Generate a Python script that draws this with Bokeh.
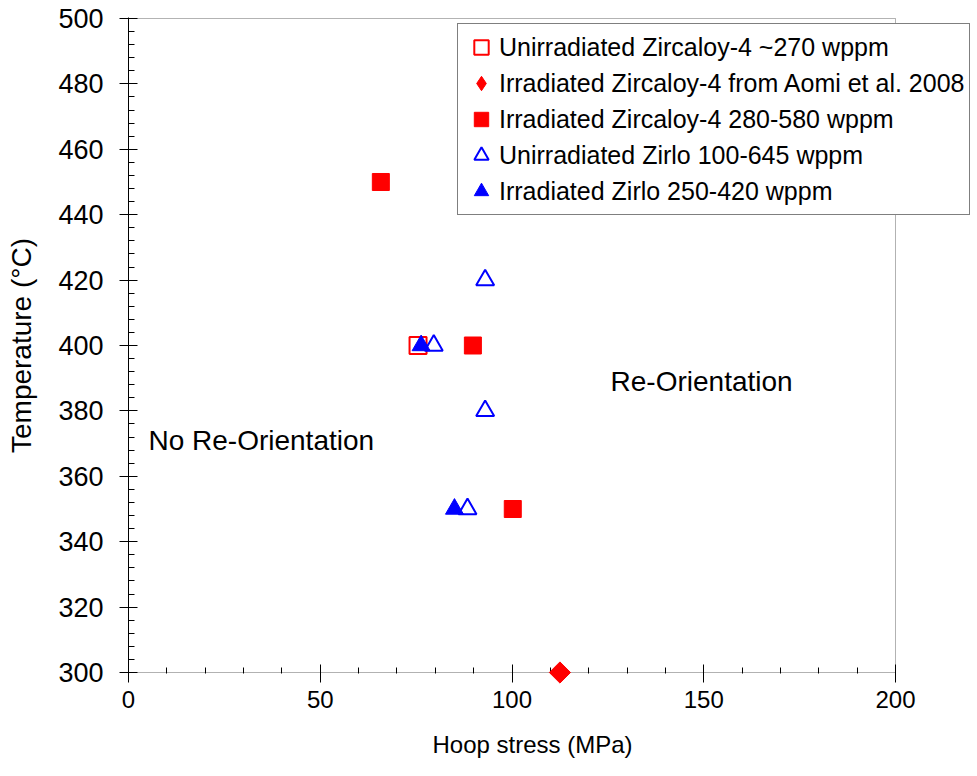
import math
from bokeh.plotting import figure
from bokeh.models import FixedTicker, Legend, LegendItem, Label, BoxAnnotation, Title
from bokeh.embed import file_html
from bokeh.resources import INLINE

FONT = "Liberation Sans"

# Data (hoop stress MPa, temperature °C)
unirr_zr4_x = [75.5]
unirr_zr4_y = [400]
aomi_x = [112.5]
aomi_y = [300]
irr_zr4_x = [65.8, 89.8, 100.2]
irr_zr4_y = [450, 400, 350]
unirr_zirlo_x = [93.0, 79.6, 93.0, 88.4]
unirr_zirlo_y = [420, 400, 380, 350]
irr_zirlo_x = [76.3, 85.0]
irr_zirlo_y = [400, 350]

labels = [
    "Unirradiated Zircaloy-4 ~270 wppm",
    "Irradiated Zircaloy-4 from Aomi et al. 2008",
    "Irradiated Zircaloy-4 280-580 wppm",
    "Unirradiated Zirlo 100-645 wppm",
    "Irradiated Zirlo 250-420 wppm",
]

x_min, x_max = 0, 200
y_min, y_max = 300, 500
x_ticks = [0, 50, 100, 150, 200]
x_minor = list(range(0, 201, 10))
y_ticks = list(range(300, 501, 20))
y_minor = list(range(300, 501, 4))

# frame extends to the right of the data box so the legend is not clipped
px_per_x = 767 / (x_max - x_min)
px_per_y = 655 / (y_max - y_min)
x_end = x_min + 847 / px_per_x
y_start = y_min - 1 / px_per_y
y_end = y_max + 1 / px_per_y

p = figure(width=977, height=776, output_backend="svg", toolbar_location=None,
           x_range=(x_min, x_end), y_range=(y_start, y_end),
           min_border_left=128, min_border_right=2, min_border_top=17, min_border_bottom=102)
p.xgrid.visible = False
p.ygrid.visible = False
p.outline_line_color = None
p.background_fill_color = "white"
p.border_fill_color = "white"

p.add_layout(BoxAnnotation(left=x_min, right=x_max, bottom=y_min, top=y_max,
                           fill_alpha=0, line_color="black", line_width=1))

p.xaxis.ticker = FixedTicker(ticks=x_ticks, minor_ticks=x_minor)
p.yaxis.ticker = FixedTicker(ticks=y_ticks, minor_ticks=y_minor)
for ax in (p.xaxis[0], p.yaxis[0]):
    ax.axis_line_color = "black"
    ax.major_tick_line_color = "black"
    ax.minor_tick_line_color = "black"
    ax.major_tick_in = 9
    ax.major_tick_out = 9
    ax.minor_tick_in = 6
    ax.minor_tick_out = 0
    ax.major_label_text_font = FONT
    ax.major_label_text_color = "black"
    ax.axis_label_text_font = FONT
    ax.axis_label_text_font_style = "normal"
    ax.axis_label_text_color = "black"
p.xaxis.axis_line_color = None

p.yaxis.axis_label = "Temperature (°C)"
p.xaxis.major_label_text_font_size = "24px"
p.yaxis.major_label_text_font_size = "27px"
p.yaxis.axis_label_text_font_size = "28px"
p.xaxis.major_label_standoff = 8
p.yaxis.major_label_standoff = 16
p.yaxis.axis_label_standoff = 18

p.add_layout(Title(text="Hoop stress (MPa)", align="left", offset=304,
                   text_font=FONT, text_font_size="24px", text_font_style="normal",
                   text_color="black", standoff=37), "below")

r1 = p.scatter(unirr_zr4_x, unirr_zr4_y, marker="square", size=17,
               fill_color=None, line_color="#FF0000", line_width=2)
# diamond shape used for the legend key; covered by the rotated square below
r2_key = p.scatter(aomi_x, aomi_y, marker="diamond", size=15,
                   fill_color="#FF0000", line_color="#FF0000")
r2 = p.scatter(aomi_x, aomi_y, marker="square", size=15, angle=math.pi / 4,
               fill_color="#FF0000", line_color="#FF0000", level="overlay")
r3 = p.scatter(irr_zr4_x, irr_zr4_y, marker="square", size=17,
               fill_color="#FF0000", line_color="#FF0000")
r4 = p.scatter(unirr_zirlo_x, unirr_zirlo_y, marker="triangle", size=18,
               fill_color=None, line_color="#0000FF", line_width=2)
r5 = p.scatter(irr_zirlo_x, irr_zirlo_y, marker="triangle", size=18,
               fill_color="#0000FF", line_color="#0000FF")

legend = Legend(items=[LegendItem(label=l, renderers=[r]) for l, r in zip(labels, [r1, r2_key, r3, r4, r5])],
                location=(329, 458), glyph_width=36, glyph_height=36, spacing=0,
                padding=5, margin=0, label_standoff=0,
                label_text_font=FONT, label_text_font_size="25px", label_text_color="black",
                border_line_color="black", border_line_width=1,
                background_fill_color="white", background_fill_alpha=1)
p.add_layout(legend, "center")

p.add_layout(Label(x=5.2, y=371, text="No Re-Orientation", text_font=FONT,
                   text_font_size="28px", text_baseline="middle", text_color="black"))
p.add_layout(Label(x=125.7, y=389, text="Re-Orientation", text_font=FONT,
                   text_font_size="28px", text_baseline="middle", text_color="black"))

open("out.html", "w").write(file_html(p, INLINE))
